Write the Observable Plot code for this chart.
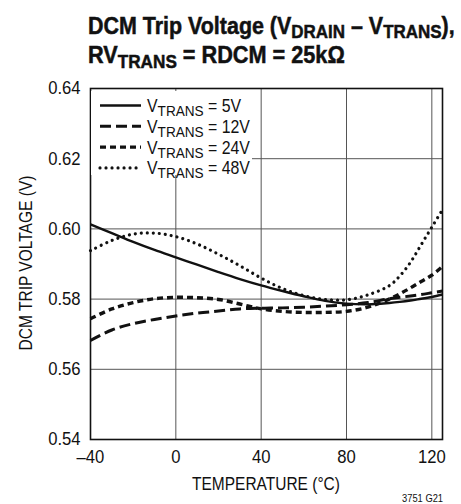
<!DOCTYPE html>
<html><head><meta charset="utf-8">
<script src="https://cdn.jsdelivr.net/npm/d3@7"></script>
<script src="https://cdn.jsdelivr.net/npm/@observablehq/plot@0.6"></script>
<style>
body{margin:0;background:#fff}
#wrap{position:relative;width:461px;height:504px;overflow:hidden;background:#fff}
#wrap svg{position:absolute;left:0;top:0}
</style></head><body><div id="wrap"></div>
<script>
const FONT = '"Liberation Sans","Arimo",Arial,sans-serif';
const temps = [-40,-30,-20,-10,0,10,20,30,40,50,60,70,80,90,100,105,110,115,120,125];
const v5  = [0.6013,0.5988,0.5963,0.5940,0.5919,0.5898,0.5877,0.5857,0.5839,0.5823,0.5808,0.5795,0.5787,0.5785,0.5789,0.5792,0.5796,0.5801,0.5806,0.5813];
const v12 = [0.5682,0.5712,0.5730,0.5742,0.5752,0.5760,0.5766,0.5772,0.5774,0.5775,0.5777,0.5780,0.5784,0.5790,0.5801,0.5805,0.5809,0.5813,0.5818,0.5823];
const v24 = [0.5744,0.5772,0.5790,0.5801,0.5805,0.5804,0.5799,0.5786,0.5772,0.5765,0.5762,0.5762,0.5765,0.5777,0.5800,0.5815,0.5832,0.5850,0.5868,0.5893];
const v48 = [0.5938,0.5967,0.5985,0.5988,0.5978,0.5957,0.5928,0.5895,0.5860,0.5830,0.5810,0.5799,0.5798,0.5812,0.5838,0.5866,0.5905,0.5955,0.6005,0.6055];
const seriesNames = ["5V","12V","24V","48V"];
const seriesValues = [v5, v12, v24, v48];
const xTicks = [-40,0,40,80,120];
const yTicks = [0.54,0.56,0.58,0.60,0.62,0.64];
const dashes = [null, "11,5", "6,4", "0.01,6"];
const widths = [2.4, 3, 3.4, 3.2];

const tables = seriesValues.map(vals => temps.map((t,i) => ({t, v: vals[i]})));

const chart = Plot.plot({
  width: 461, height: 504,
  marginLeft: 90, marginRight: 19, marginTop: 88, marginBottom: 65,
  style: {fontFamily: FONT, background: "transparent"},
  x: {domain: [-40,125]},
  y: {domain: [0.54,0.64]},
  marks: [
    Plot.gridX([0,40,80,120], {stroke: "#555", strokeOpacity: 1, strokeWidth: 1}),
    Plot.gridY([0.56,0.58,0.60,0.62], {stroke: "#555", strokeOpacity: 1, strokeWidth: 1}),
    ...tables.map((d,i) => Plot.line(d, {x: "t", y: "v", curve: "catmull-rom", stroke: "#111",
        strokeWidth: widths[i], strokeDasharray: dashes[i] || undefined, strokeLinecap: i===3 ? "round" : "butt"})),
    Plot.frame({stroke: "#111", strokeWidth: 1.6}),
    Plot.axisX(xTicks, {tickSize: 0, tickPadding: 10, fontSize: 18.5, label: null,
        tickFormat: d => d < 0 ? "\u2013" + Math.abs(d) : String(d), fill: "#111"}),
    Plot.axisY(yTicks, {tickSize: 0, tickPadding: 10, fontSize: 18.5, label: null,
        tickFormat: d3.format(".2f"), fill: "#111"})
  ]
});
document.getElementById("wrap").appendChild(chart);
// condense tick labels slightly (reference uses a condensed face)
d3.select(chart).selectAll('g[aria-label$="tick label"] text').each(function() {
  const tr = this.getAttribute("transform") || "";
  this.setAttribute("transform", tr + " scale(0.9,1)");
});

// overlay text layer
const ov = d3.select("#wrap").append("svg").attr("width",461).attr("height",504)
  .style("font-family", FONT).attr("fill", "#111");

function rich(sel, parts, size, subSize, shift) {
  let cur = 0;
  parts.forEach(([s, sub]) => {
    const want = sub ? shift : 0;
    sel.append("tspan").attr("dy", want - cur).attr("font-size", sub ? subSize : size).text(s);
    cur = want;
  });
}
function place(sel, x, y, sx, rot) {
  sel.attr("transform", `translate(${x},${y})` + (rot ? ` rotate(${rot})` : "") + ` scale(${sx},1)`);
}
function fitScale(sel, target) {
  return target / sel.node().getComputedTextLength();
}

const t1 = ov.append("text").attr("font-weight", "bold").attr("stroke", "#111").attr("stroke-width", 0.5);
rich(t1, [["DCM Trip Voltage (V",0],["DRAIN",1],[" \u2013 V",0],["TRANS",1],["),",0]], 24, 19, 4);
place(t1, 88, 34, fitScale(t1, 367));
const t2 = ov.append("text").attr("font-weight", "bold").attr("stroke", "#111").attr("stroke-width", 0.5);
rich(t2, [["RV",0],["TRANS",1],[" = RDCM = 25k\u03A9",0]], 24, 19, 5);
place(t2, 88, 63, fitScale(t2, 257));

// legend
const lg = ov.append("g");
lg.append("rect").attr("x", 91).attr("y", 91).attr("width", 161).attr("height", 84).attr("fill", "#fff");
const rows = seriesNames.map((name, i) => {
  const base = 112 + i * 20.8;
  lg.append("line").attr("x1", 100).attr("x2", 141).attr("y1", base - 6.5).attr("y2", base - 6.5)
    .attr("stroke", "#111").attr("stroke-width", widths[i])
    .attr("stroke-dasharray", dashes[i]).attr("stroke-linecap", i===3 ? "round" : "butt");
  const tx = lg.append("text");
  rich(tx, [["V",0],["TRANS",1],[" = " + name,0]], 17.5, 15, 4);
  return [tx, base];
});
const lgScale = fitScale(rows[3][0], 103);
rows.forEach(([tx, base]) => place(tx, 147, base, lgScale));

// axis labels
const xl = ov.append("text").attr("text-anchor", "middle").attr("font-size", 19).text("TEMPERATURE (\u00B0C)");
place(xl, 266, 490, fitScale(xl, 148));
const yl = ov.append("text").attr("text-anchor", "middle").attr("font-size", 19).text("DCM TRIP VOLTAGE (V)");
place(yl, 32, 263, fitScale(yl, 175), -90);
const fn = ov.append("text").attr("text-anchor", "end").attr("font-size", 10).text("3751 G21");
place(fn, 443, 502, fitScale(fn, 41));
</script></body></html>
